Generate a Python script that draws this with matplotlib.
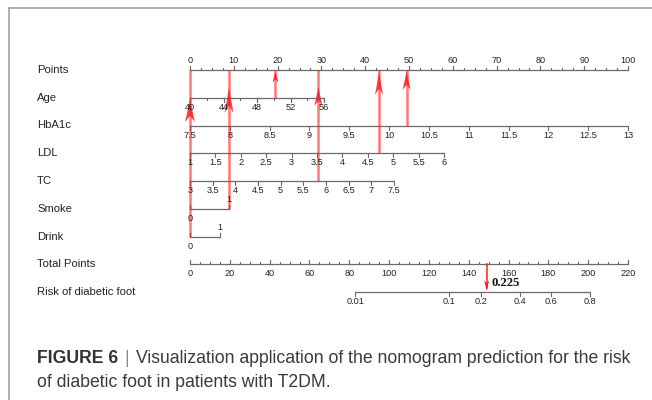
import numpy as np
import matplotlib
matplotlib.use("Agg")
import matplotlib.pyplot as plt
from matplotlib.transforms import blended_transform_factory
from matplotlib.lines import Line2D

plt.rcParams['font.family'] = ['Liberation Sans', 'DejaVu Sans']

# ---------------- data ----------------
row_names = ["Points", "Age", "HbA1c", "LDL", "TC", "Smoke", "Drink",
             "Total Points", "Risk of diabetic foot"]

points_ticks = np.arange(0, 101, 10)
points_minor = np.arange(0, 100.01, 2.5)

age_range = [40, 56]
age_points = [0, 30.6]
age_ticks = [40, 44, 48, 52, 56]
age_minor = np.arange(40, 56.01, 2)

hba1c_range = [7.5, 13]
hba1c_points = [0, 100]
hba1c_ticks = np.arange(7.5, 13.01, 0.5)

ldl_range = [1, 6]
ldl_points = [0, 58.0]
ldl_ticks = np.arange(1, 6.01, 0.5)

tc_range = [3, 7.5]
tc_points = [0, 46.6]
tc_ticks = np.arange(3, 7.51, 0.5)

smoke_levels = [0, 1]
smoke_points = [0, 8.9]
drink_levels = [0, 1]
drink_points = [0, 6.8]

total_max = 220
total_ticks = np.arange(0, 221, 20)
total_minor = np.arange(0, 221, 5)

risk_ticks = [0.01, 0.1, 0.2, 0.4, 0.6, 0.8]
risk_intercept = -8.80   # logit(risk) = intercept + slope * total points
risk_slope = 0.0507

patient_age = 50.2
patient_hba1c = 10.22
patient_ldl = 4.72
patient_tc = 5.83
patient_smoke = 1
patient_drink = 0
patient_total = 149
patient_risk = 0.225

# ---------------- layout ----------------
W, H = 652, 400
fig = plt.figure(figsize=(W / 100, H / 100), dpi=100)
X0, X1 = 190, 628
ROW0, ROWH = 70, 27.75
ax = fig.add_axes([X0 / W, 0, (X1 - X0) / W, 1])
ax.set_xlim(0, 100)
ax.set_ylim((H - ROW0) / ROWH, -ROW0 / ROWH)
ax.axis('off')

def py(px):  # pixels -> rows
    return px / ROWH

def pxx(px):  # pixels -> points units
    return px * 100 / (X1 - X0)

def lin(v, rng, pts):
    return pts[0] + (np.asarray(v, float) - rng[0]) / (rng[1] - rng[0]) * (pts[1] - pts[0])

def total_x(tp):
    return np.asarray(tp, float) * 100 / total_max

def risk_x(p):
    p = np.asarray(p, float)
    return total_x((np.log(p / (1 - p)) - risk_intercept) / risk_slope)

AXC = '#6a6a6a'
TXC = '#222222'
TFS = 6.6
MAJ, MIN = py(4), py(2.5)
LAB = py(9.5)

def fmt(v):
    return '%g' % v

def seg(xs, ys, **kw):
    ax.plot(xs, ys, clip_on=False, **kw)

def scale(row, pos, labels, minor=None, tick_up=False, label_above=False):
    pos = np.asarray(pos, float)
    lo, hi = pos.min(), pos.max()
    seg([lo, hi], [row, row], color=AXC, lw=0.9, solid_capstyle='butt')
    d = -1 if tick_up else 1
    if minor is not None:
        for p in minor:
            seg([p, p], [row, row + d * MIN], color=AXC, lw=0.8)
    for p in pos:
        seg([p, p], [row, row + d * MAJ], color=AXC, lw=0.8)
    s = -1 if label_above else 1
    for p, lab in zip(pos, labels):
        ax.text(p, row + s * LAB, lab, ha='center', va='center', fontsize=TFS, color=TXC)

# Points
scale(0, points_ticks, [fmt(v) for v in points_ticks], minor=points_minor,
      tick_up=True, label_above=True)
# Age
scale(1, lin(age_ticks, age_range, age_points), [fmt(v) for v in age_ticks],
      minor=lin(age_minor, age_range, age_points))
# HbA1c
scale(2, lin(hba1c_ticks, hba1c_range, hba1c_points), [fmt(v) for v in hba1c_ticks])
# LDL
scale(3, lin(ldl_ticks, ldl_range, ldl_points), [fmt(v) for v in ldl_ticks])
# TC
scale(4, lin(tc_ticks, tc_range, tc_points), [fmt(v) for v in tc_ticks])

# Smoke / Drink (alternating labels)
for row, lev, pts in [(5, smoke_levels, smoke_points), (6, drink_levels, drink_points)]:
    seg([min(pts), max(pts)], [row, row], color=AXC, lw=0.9, solid_capstyle='butt')
    for i, (l, p) in enumerate(zip(lev, pts)):
        seg([p, p], [row, row - MAJ], color=AXC, lw=0.8)
        s = 1 if i % 2 == 0 else -1
        ax.text(p, row + s * LAB, fmt(l), ha='center', va='center', fontsize=TFS, color=TXC)

# Total points
scale(7, total_x(total_ticks), [fmt(v) for v in total_ticks], minor=total_x(total_minor),
      tick_up=True)
# Risk
scale(8, risk_x(risk_ticks), [fmt(v) for v in risk_ticks])

# Row labels
tr = blended_transform_factory(fig.transFigure, ax.transData)
for i, name in enumerate(row_names):
    ax.text(37 / W, i, name, transform=tr, ha='left', va='center', fontsize=8.1, color=TXC)

# ---------------- red arrows ----------------
RED = '#ff1e1e'

def head(x, tip, L, w, up=True, alpha=0.85):
    d = 1 if up else -1
    L, w = py(L), pxx(w)
    xs = [x, x - w / 2, x, x + w / 2]
    ys = [tip, tip + d * L, tip + d * 0.72 * L, tip + d * L]
    ax.fill(xs, ys, color=RED, alpha=alpha, lw=0, clip_on=False)

arrows = [  # (x in points, start row, tip px below Points axis, head length px, head width px)
    (lin(patient_drink, [0, 1], drink_points), 6, 30, 22, 10),
    (lin(patient_smoke, [0, 1], smoke_points), 5, 18, 25, 9),
    (lin(patient_age, age_range, age_points), 1, 1.5, 11, 6),
    (lin(patient_tc, tc_range, tc_points), 4, 17, 19, 8),
    (lin(patient_ldl, ldl_range, ldl_points), 3, 2, 23, 8),
    (lin(patient_hba1c, hba1c_range, hba1c_points), 2, 1, 19, 8),
]
for x, r0, tip, L, w in arrows:
    seg([x, x], [r0, 0], color=RED, alpha=0.6, lw=1.8, solid_capstyle='butt')
    head(x, py(tip), L, w)

gx = total_x(patient_total)
seg([gx, gx], [7, 8 - py(4)], color=RED, lw=1.1)
head(gx, 8 - py(1.5), 10, 5, up=False, alpha=1)
ax.text(gx + pxx(5), 8 - py(8.5), '%.3f' % patient_risk, ha='left', va='center',
        fontsize=9.2, fontweight='bold', family=['Liberation Serif', 'DejaVu Serif'],
        color='#111111')

# ---------------- frame and caption ----------------
fig.add_artist(Line2D([9 / W, 9 / W], [0, 1 - 8 / H], transform=fig.transFigure,
                      color='#9a9a9a', lw=1.1))
fig.add_artist(Line2D([9 / W, 1], [1 - 8 / H, 1 - 8 / H], transform=fig.transFigure,
                      color='#9a9a9a', lw=1.1))

CFS = 12.7
Y1, Y2 = 1 - 363 / H, 1 - 387 / H
t1 = fig.text(37 / W, Y1, 'FIGURE 6', fontsize=CFS, fontweight='bold',
              color='#333333', va='baseline')
fig.canvas.draw()
r = fig.canvas.get_renderer()
bb = t1.get_window_extent(r)
t2 = fig.text(bb.x1 / W + 6 / W, Y1, '|', fontsize=CFS, color='#8a8a8a', va='baseline')
bb2 = t2.get_window_extent(r)
fig.text(bb2.x1 / W + 7 / W, Y1,
         'Visualization application of the nomogram prediction for the risk',
         fontsize=CFS, color='#3a3a3a', va='baseline')
fig.text(37 / W, Y2, 'of diabetic foot in patients with T2DM.',
         fontsize=CFS, color='#3a3a3a', va='baseline')

fig.savefig('out.png', dpi=100)
